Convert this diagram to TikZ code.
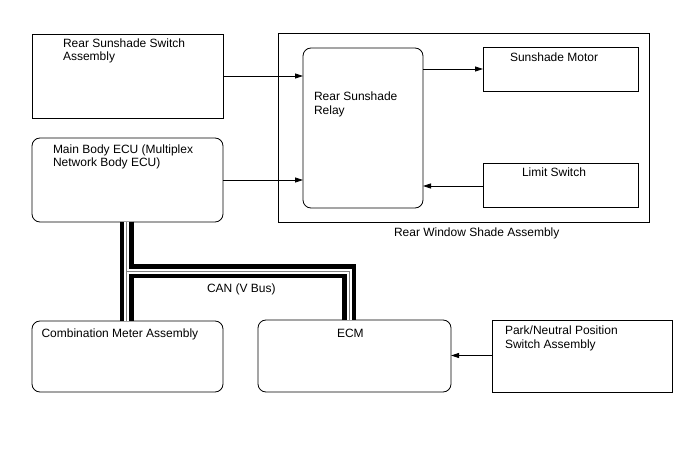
\documentclass[tikz,border=0pt]{standalone}
\usepackage{fontspec}
\setmainfont{Liberation Sans}
\usetikzlibrary{arrows.meta}
\begin{document}
\begin{tikzpicture}[x=1bp,y=-1bp,
  box/.style={draw=black, line width=0.8bp, inner sep=0, outer sep=0, anchor=north west},
  rbox/.style={box, rounded corners=8bp},
  lbl/.style={anchor=base west, inner sep=0, outer sep=0, font=\fontsize{12bp}{13.5bp}\selectfont},
  arr/.style={line width=0.8bp, -{Triangle[length=8bp,width=5bp]}},
  ]
\useasboundingbox[fill=white] (0,0) rectangle (688,463);
% boxes
\node[box, minimum width=191bp, minimum height=84bp] (sw) at (32,34) {};
\node[rbox, minimum width=191bp, minimum height=84bp] (ecu) at (32,138) {};
\node[box, minimum width=371bp, minimum height=189bp] (asm) at (278,33) {};
\node[rbox, minimum width=120bp, minimum height=160bp] (relay) at (303,48) {};
\node[box, minimum width=155bp, minimum height=44bp] (motor) at (483,47) {};
\node[box, minimum width=155bp, minimum height=44bp] (limit) at (483,163) {};
\node[rbox, minimum width=191bp, minimum height=71bp] (meter) at (32,321) {};
\node[rbox, minimum width=193bp, minimum height=72bp] (ecm) at (258,320) {};
\node[box, minimum width=180bp, minimum height=72bp] (pns) at (492,320) {};
% labels
\node[lbl] (t1a) at (63,47.5) {Rear Sunshade Switch};
\node[lbl] (t1b) at (63,61) {Assembly};
\node[lbl] (t2a) at (53,153.5) {Main Body ECU (Multiplex};
\node[lbl] (t2b) at (53,167) {Network Body ECU)};
\node[lbl] (t3a) at (314,101) {Rear Sunshade};
\node[lbl] (t3b) at (314,114.5) {Relay};
\node[lbl] (t4) at (510,61.5) {Sunshade Motor};
\node[lbl] (t5) at (522,176.5) {Limit Switch};
\node[lbl] (t6) at (394,236.5) {Rear Window Shade Assembly};
\node[lbl] (t7) at (207,293) {CAN (V Bus)};
\node[lbl] (t8) at (41.5,337.5) {Combination Meter Assembly};
\node[lbl] (t9) at (337,338) {ECM};
\node[lbl] (t10a) at (505,335) {Park/Neutral Position};
\node[lbl] (t10b) at (505,348.5) {Switch Assembly};
% arrows
\coordinate (a1) at (0,76);
\coordinate (a2) at (0,180);
\coordinate (a3) at (0,69);
\coordinate (a4) at (0,186);
\coordinate (a5) at (0,355.5);
\draw[arr] (sw.east |- a1) -- (relay.west |- a1);
\draw[arr] (ecu.east |- a2) -- (relay.west |- a2);
\draw[arr] (relay.east |- a3) -- (motor.west |- a3);
\draw[arr] (limit.west |- a4) -- (relay.east |- a4);
\draw[arr] (pns.west |- a5) -- (ecm.east |- a5);
% CAN bus
\coordinate (cj) at (126.5,271.5);
\coordinate (ce) at (349,271.5);
\foreach \w/\c in {14/black,5/white,0.9/gray}{
  \draw[line width=\w bp, \c] ([yshift=0.4bp]ecu.south -| cj) -- ([yshift=-0.4bp]meter.north -| cj);
  \draw[line width=\w bp, \c] (cj) -- (ce) -- ([yshift=-0.4bp]ecm.north -| ce);
}
\end{tikzpicture}
\end{document}
